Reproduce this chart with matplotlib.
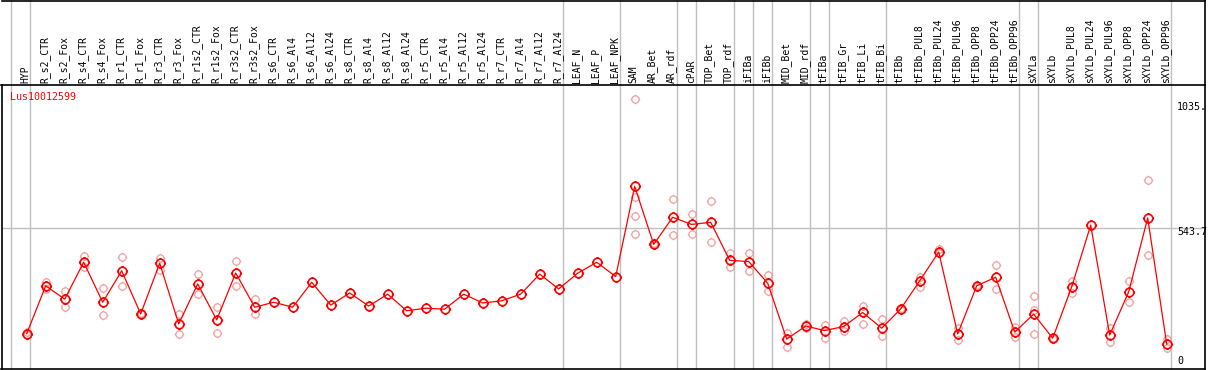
#!/usr/bin/env python

import matplotlib
matplotlib.use('Agg')
import matplotlib.pyplot as plt
from matplotlib.path import Path
from matplotlib.lines import Line2D
import matplotlib.transforms as mtransforms

GENE = 'Lus10012599'

SAMPLES = [
    'HYP', 'R_s2_CTR', 'R_s2_Fox', 'R_s4_CTR', 'R_s4_Fox', 'R_r1_CTR',
    'R_r1_Fox', 'R_r3_CTR', 'R_r3_Fox', 'R_r1s2_CTR', 'R_r1s2_Fox',
    'R_r3s2_CTR', 'R_r3s2_Fox', 'R_s6_CTR', 'R_s6_Al4', 'R_s6_Al12',
    'R_s6_Al24', 'R_s8_CTR', 'R_s8_Al4', 'R_s8_Al12', 'R_s8_Al24',
    'R_r5_CTR', 'R_r5_Al4', 'R_r5_Al12', 'R_r5_Al24', 'R_r7_CTR', 'R_r7_Al4',
    'R_r7_Al12', 'R_r7_Al24', 'LEAF_N', 'LEAF_P', 'LEAF_NPK', 'SAM', 'AR_Bet',
    'AR_rdf', 'cPAR', 'TOP_Bet', 'TOP_rdf', 'iFIBa', 'iFIBb', 'MID_Bet',
    'MID_rdf', 'tFIBa', 'tFIB_Gr', 'tFIB_Li', 'tFIB_Bi', 'tFIBb',
    'tFIBb_PUL8', 'tFIBb_PUL24', 'tFIBb_PUL96', 'tFIBb_OPP8', 'tFIBb_OPP24',
    'tFIBb_OPP96', 'sXYLa', 'sXYLb', 'sXYLb_PUL8', 'sXYLb_PUL24',
    'sXYLb_PUL96', 'sXYLb_OPP8', 'sXYLb_OPP24', 'sXYLb_OPP96',
]

MEANS = [
    101, 302, 246, 401, 233, 365, 184, 397, 142, 310, 159, 356, 212,
    233, 212, 317, 221, 272, 217, 267, 197, 208, 204, 267, 230, 239, 267,
    351, 289, 355, 401, 341, 720, 476, 590, 560, 569, 409, 404, 313, 78,
    133, 114, 131, 190, 124, 205, 323, 444, 100, 302, 338, 108, 183, 82,
    298, 557, 95, 277, 587, 57,
]

REPLICATES = [
    [106, 96], [316, 287], [281, 215], [427, 379], [292, 179], [422, 300],
    [186, 182], [419, 370], [183, 99], [352, 268], [211, 103], [405, 302],
    [247, 183], [], [], [], [], [], [], [], [], [], [], [], [], [], [], [],
    [], [], [], [], [1088, 676, 594, 518], [480, 472], [666, 514],
    [602, 518], [657, 485], [440, 380], [440, 366], [347, 282], [103, 47],
    [141, 124], [138, 83], [155, 114], [217, 141], [162, 91], [210, 200],
    [341, 299], [455, 438], [124, 73], [305, 299], [390, 288], [131, 88],
    [258, 201, 99], [84, 80], [323, 271], [], [123, 66], [323, 233],
    [746, 430], [80, 39],
]

# group separators sit just right of these sample indices
SEPARATORS = [-1, 0, 28, 31, 34, 35, 37, 38, 39, 41, 42, 45, 52, 53, 60]

MID_VALUE = 543.7
Y_LABELS = ['1035.', '543.7', '0']
Y_LABEL_PX = [107, 232, 361]

W, H = 1209, 370
PLOT_TOP, PLOT_BOTTOM = 85, 369
PLOT_LEFT, PLOT_RIGHT = 1.5, 1205


def sun_marker():
    stubs = Path(
        [(0, 1), (0, 1.3), (0, -1), (0, -1.3),
         (1, 0), (1.3, 0), (-1, 0), (-1.3, 0)],
        [Path.MOVETO, Path.LINETO] * 4)
    return Path.make_compound_path(Path.unit_circle(), stubs)


def main() -> None:
    fig = plt.figure(figsize=(W / 100, H / 100), dpi=100)
    ax = fig.add_axes([PLOT_LEFT / W, (H - PLOT_BOTTOM) / H,
                       (PLOT_RIGHT - PLOT_LEFT) / W,
                       (PLOT_BOTTOM - PLOT_TOP) / H])

    # pixel mapping: x = 26.7 + 19*i, y = 357.7 - 0.238*v
    ax.set_xlim((PLOT_LEFT - 26.7) / 19, (PLOT_RIGHT - 26.7) / 19)
    ax.set_ylim((357.7 - PLOT_BOTTOM) / 0.238, (357.7 - PLOT_TOP) / 0.238)
    ax.set_xticks([])
    ax.set_yticks([])
    for sp in ax.spines.values():
        sp.set_linewidth(1.2)
        sp.set_color('black')

    grey = '#c0c0c0'
    ext = (PLOT_BOTTOM) / (PLOT_BOTTOM - PLOT_TOP)
    for s in SEPARATORS:
        ax.axvline(s + 0.2, ymin=0, ymax=ext, color=grey, lw=1.0,
                   clip_on=False, zorder=1)
    ax.axhline(MID_VALUE, color=grey, lw=1.0, zorder=1)

    mk = sun_marker()
    idx = list(range(len(SAMPLES)))
    for i, reps in enumerate(REPLICATES):
        if reps:
            ax.plot([i] * len(reps), reps, linestyle='none', marker=mk,
                    markersize=6.8, markerfacecolor='none',
                    markeredgecolor='#f0a0a0', markeredgewidth=0.9, zorder=2)
    ax.plot(idx, MEANS, color='red', lw=0.9, marker=mk, markersize=8,
            markerfacecolor='none', markeredgecolor='red',
            markeredgewidth=1.2, zorder=3, clip_on=False)

    trans = mtransforms.blended_transform_factory(ax.transData, ax.transAxes)
    lab_y = 1 + 2 / (PLOT_BOTTOM - PLOT_TOP)
    for i, name in enumerate(SAMPLES):
        ax.text(i - 0.05, lab_y, name, rotation=90, ha='center', va='bottom',
                fontsize=7, family='DejaVu Sans Mono', transform=trans)

    fig.text(10 / W, 1 - 97 / H, GENE, color='red', fontsize=7.2,
             family='DejaVu Sans Mono', va='center', ha='left')
    for lab, py in zip(Y_LABELS, Y_LABEL_PX):
        fig.text(1177 / W, 1 - py / H, lab, fontsize=7.2,
                 family='DejaVu Sans Mono', va='center', ha='left')

    # frame round the label strip
    fig.add_artist(Line2D([PLOT_LEFT / W, PLOT_RIGHT / W],
                          [1 - 0.7 / H, 1 - 0.7 / H], color='black', lw=1.2))
    fig.add_artist(Line2D([PLOT_RIGHT / W, PLOT_RIGHT / W],
                          [1, 1 - PLOT_TOP / H], color='black', lw=1.2))

    fig.savefig('out.png', dpi=100)


if __name__ == '__main__':
    main()
